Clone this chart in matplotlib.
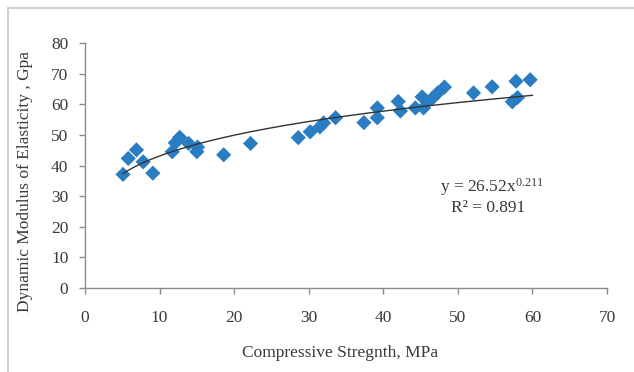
import numpy as np
import matplotlib.pyplot as plt
from matplotlib.patches import Rectangle

# ---------- data ----------
strength = [5.1, 5.8, 6.9, 7.8, 9.1, 11.7, 12.1, 12.7, 13.9, 15.0, 15.1,
            18.6, 22.2, 28.6, 30.2, 31.5, 32.0, 33.6, 37.4, 39.2, 39.2,
            42.0, 42.3, 44.3, 45.2, 45.4, 45.9, 46.6, 47.3, 48.2, 52.1,
            54.6, 57.3, 57.8, 58.0, 59.7]
modulus = [37.1, 42.3, 45.1, 41.2, 37.5, 44.5, 47.4, 49.2, 47.2, 44.5, 46.0,
           43.5, 47.2, 49.1, 51.0, 52.6, 53.9, 55.6, 54.0, 55.6, 58.8,
           60.9, 57.8, 58.8, 62.4, 58.8, 60.8, 62.0, 63.7, 65.6, 63.7,
           65.7, 60.8, 67.5, 62.2, 68.0]

fit_a = 26.52
fit_b = 0.211
r2 = 0.891

plt.rcParams["font.family"] = ["Liberation Serif", "DejaVu Serif"]
plt.rcParams["mathtext.fontset"] = "custom"
plt.rcParams["mathtext.rm"] = "Liberation Serif"
plt.rcParams["mathtext.it"] = "Liberation Serif"
text_color = "#3a3a3a"
axis_color = "#8c8c8c"
fs = 12.5

fig = plt.figure(figsize=(6.34, 3.72), dpi=100)
# light chart-area frame
fig.patches.append(Rectangle((8 / 634, -0.05), 1.2, 1 - 8 / 372 + 0.05,
                             transform=fig.transFigure, fill=False,
                             edgecolor="#d0d0d0", linewidth=1.5))

ax = fig.add_axes([85 / 634, 1 - 288 / 372, (607 - 85) / 634, (288 - 43) / 372])

ax.scatter(strength, modulus, marker="D", s=60, color="#2a7dc2",
           edgecolors="none", zorder=3)

xs = np.linspace(min(strength), max(strength) + 0.3, 200)
ax.plot(xs, fit_a * xs ** fit_b, color="#333333", linewidth=1.0, zorder=4)

ax.set_xlim(0, 70)
ax.set_ylim(0, 80)
ax.set_xticks(range(0, 71, 10))
ax.set_yticks(range(0, 81, 10))

for side in ["top", "right"]:
    ax.spines[side].set_visible(False)
for side in ["left", "bottom"]:
    ax.spines[side].set_color(axis_color)
    ax.spines[side].set_linewidth(1.0)
ax.tick_params(axis="both", colors=axis_color, labelcolor=text_color,
               labelsize=fs, length=4, width=1.0)
ax.tick_params(axis="x", pad=12)
ax.tick_params(axis="y", pad=8)

fig.text(340 / 634, 1 - 353 / 372, "Compressive Stregnth, MPa", fontsize=fs,
         color=text_color, ha="center", va="center")
fig.text(25 / 634, 1 - 181 / 372, "Dynamic Modulus of Elasticity , Gpa",
         fontsize=fs, color=text_color, ha="center", va="center", rotation=90)

ax.text(54.5, 33.0, "y = %.2fx$^{%.3f}$" % (fit_a, fit_b), ha="center",
        va="center", fontsize=fs, color=text_color)
ax.text(54.1, 26.2, "R² = %.3f" % r2, ha="center", va="center",
        fontsize=fs, color=text_color)

fig.savefig("out.png", dpi=100)
